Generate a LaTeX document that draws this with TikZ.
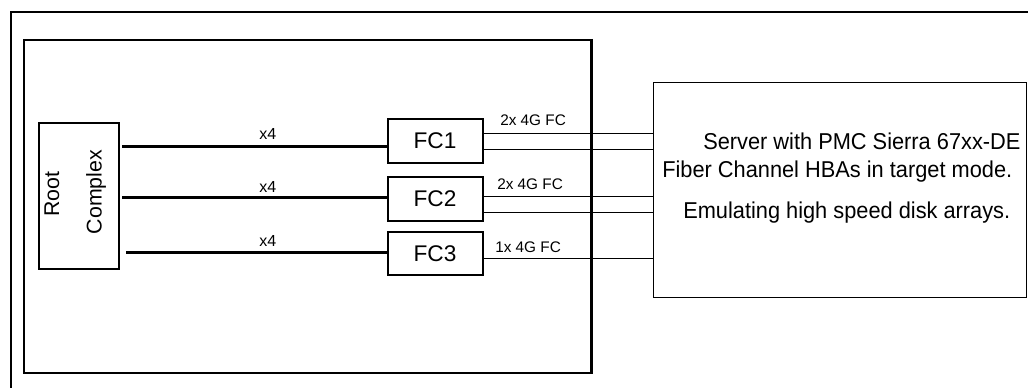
\documentclass[tikz,border=0pt]{standalone}
\usepackage{fontspec}
\setmainfont{Liberation Sans}
\newfontfamily\srvfont[FakeStretch=0.95]{Liberation Sans}
\begin{document}
\begin{tikzpicture}[x=0.75pt,y=-0.75pt,
  box/.style={draw,line width=1.5pt,inner sep=0pt,font=\fontsize{17}{20}\selectfont},
  thinbox/.style={draw,line width=0.75pt,inner sep=0pt},
  thick link/.style={line width=2.25pt},
  thin link/.style={line width=0.7pt},
  lanelabel/.style={anchor=base west,inner sep=0pt,font=\fontsize{12}{14}\selectfont},
  fclabel/.style={anchor=base west,inner sep=0pt,font=\fontsize{11.5}{13}\selectfont},
  srvtext/.style={anchor=base west,inner sep=0pt,font=\srvfont\fontsize{17.2}{20}\selectfont},
  rctext/.style={rotate=90,inner sep=0pt,font=\fontsize{16}{19}\selectfont}]
\useasboundingbox (0,0) rectangle (1028,388);
\clip (0,0) rectangle (1028,388);
% outer frame (extends past the picture)
\draw[line width=1.5pt] (11,420) -- (11,12) -- (1060,12);
% inner box
\node[box,minimum width=425.25pt,minimum height=249.75pt] (inner) at (307.5,206.5) {};
% root complex
\node[box,minimum width=60pt,minimum height=109.5pt] (rc) at (79,196) {};
\node[rctext] (rcroot) at (52,194) {Root};
\node[rctext] (rccomplex) at (96,192) {Complex};
% FC boxes
\node[box,minimum width=71.25pt,minimum height=33pt] (fc1) at (435,141) {FC1};
\node[box,minimum width=71.25pt,minimum height=33pt] (fc2) at (435,199) {FC2};
\node[box,minimum width=71.25pt,minimum height=32.25pt] (fc3) at (435,253.5) {FC3};
\coordinate (fc1in) at ([yshift=-4.5pt]fc1.west);
\coordinate (fc2in) at ([yshift=0.75pt]fc2.west);
\coordinate (fc3in) at ([yshift=1.1pt]fc3.west);
% server
\node[thinbox,minimum width=279.75pt,minimum height=161.25pt] (srv) at (839.5,190.5) {};
\node[srvtext] (s1) at (703,150) {Server with PMC Sierra 67xx-DE};
\node[srvtext] (s2) at (662,178) {Fiber Channel HBAs in target mode.};
\node[srvtext] (s3) at (683,219) {Emulating high speed disk arrays.};
% x4 links
\draw[thick link] ([xshift=1.5pt]rc.east |- fc1in) -- (fc1in);
\draw[thick link] ([xshift=1.5pt]rc.east |- fc2in) -- (fc2in);
\draw[thick link] ([xshift=4.5pt]rc.east |- fc3in) -- ([xshift=1pt]fc3in);
\node[lanelabel] (l1) at (259,140) {x4};
\node[lanelabel] (l2) at (259,193) {x4};
\node[lanelabel] (l3) at (259,247) {x4};
% FC links
\draw[thin link] ([yshift=6pt]fc1.east) -- ([yshift=6pt]fc1.east -| srv.west);
\draw[thin link] ([yshift=-6pt]fc1.east) -- ([yshift=-6pt]fc1.east -| srv.west);
\draw[thin link] ([yshift=2.25pt]fc2.east) -- ([yshift=2.25pt]fc2.east -| srv.west);
\draw[thin link] ([yshift=-9.75pt]fc2.east) -- ([yshift=-9.75pt]fc2.east -| srv.west);
\draw[thin link] ([yshift=-4.1pt]fc3.east) -- ([yshift=-4.1pt]fc3.east -| srv.west);
\node[fclabel] (f1) at (500,126) {2x 4G FC};
\node[fclabel] (f2) at (497,190) {2x 4G FC};
\node[fclabel] (f3) at (495,253) {1x 4G FC};
% redraw inner box right edge on top of the thin links
\draw[line width=1.5pt] (inner.north east) -- (inner.south east);
\end{tikzpicture}
\end{document}
